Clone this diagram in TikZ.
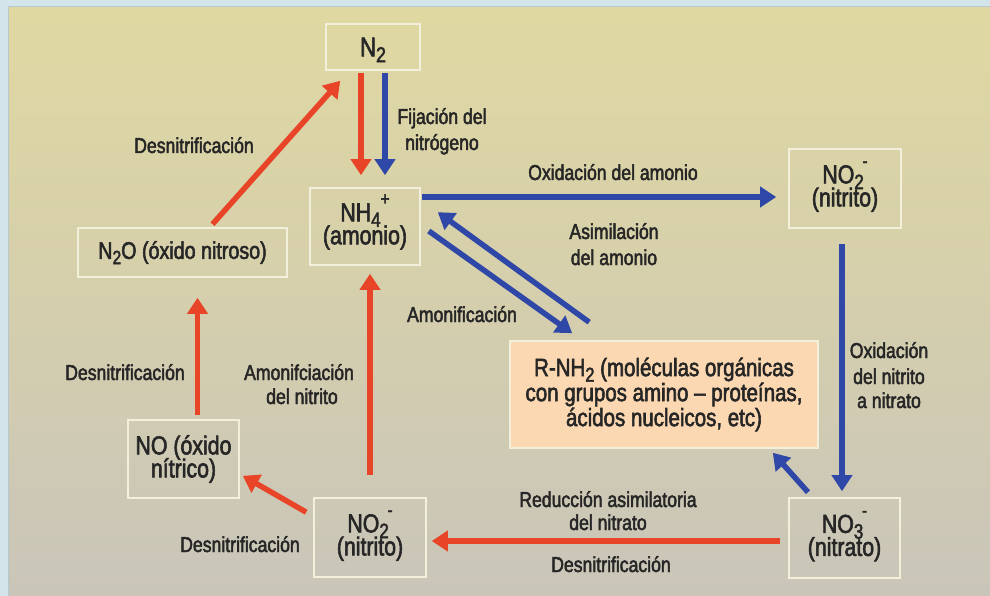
\documentclass[tikz,border=0pt]{standalone}
\usepackage{fontspec}
\setmainfont{Liberation Sans}[FakeStretch=0.82,FakeBold=2.2]
\usepackage{graphicx}
\usetikzlibrary{arrows.meta}
\definecolor{outerc}{HTML}{D3E5EA}
\definecolor{edgec}{HTML}{B6C8CD}
\definecolor{bgtop}{HTML}{E0D8A1}
\definecolor{bgmid}{HTML}{D6D0AE}
\definecolor{bgbot}{HTML}{C9C5B9}
\definecolor{boxline}{HTML}{F2EFDA}
\definecolor{peach}{HTML}{FBD8B1}
\definecolor{redc}{HTML}{E84428}
\definecolor{bluec}{HTML}{2F47A6}
\definecolor{txt}{HTML}{262626}
\newcommand\dn[1]{\smash{\raisebox{-0.22em}{\scalebox{0.8}{#1}}}}
\newcommand\upx[1]{\smash{\raisebox{0.62em}{\scalebox{0.72}{#1}}}}
\newcommand\boxfont{\fontsize{26}{23}\selectfont\lineskiplimit=-40pt}
\newcommand\rfont{\fontsize{25}{25}\selectfont\lineskiplimit=-40pt}
\newcommand\labfont{\fontsize{21.5}{24}\selectfont}
\begin{document}
\begin{tikzpicture}[x=1pt,y=-1pt,
  box/.style={draw=boxline, line width=1.6pt, inner sep=0pt, align=center, font=\boxfont, text=txt},
  lab/.style={font=\labfont, text=txt, inner sep=0pt, anchor=base},
  rarr/.style={draw=redc, line width=5.5pt, -{Triangle[width=20pt,length=16pt]}},
  barr/.style={draw=bluec, line width=5.5pt, -{Triangle[width=20pt,length=16pt]}}]
\useasboundingbox (0,0) rectangle (990,596);
% background
\fill[outerc] (0,0) rectangle (990,596);
\fill[edgec] (8,6) rectangle (990,7.5);
\fill[edgec] (7.5,6) rectangle (9,596);
\shade[top color=bgtop, middle color=bgmid, bottom color=bgbot] (9,7.5) rectangle (990,596);
% boxes
\node[box, minimum width=94pt, minimum height=46pt, font=\fontsize{27}{27}\selectfont] (N2) at (373,47) {N\dn{2}};
\node[box, minimum width=110pt, minimum height=77pt] (NH4) at (365,226.5) {NH\dn{4}\upx{+}\\(amonio)};
\node[box, minimum width=112pt, minimum height=79pt] (NO2t) at (845,188.5) {NO\dn{2}\kern-0.05em\upx{-}\\(nitrito)};
\node[box, minimum width=209pt, minimum height=49pt, font=\fontsize{24}{24}\selectfont] (N2O) at (182.5,252.5) {N\dn{2}O (óxido nitroso)};
\node[box, minimum width=111pt, minimum height=78pt] (NO) at (183.5,459) {NO (óxido\\nítrico)};
\node[box, minimum width=112pt, minimum height=79pt] (NO2b) at (370,537.5) {NO\dn{2}\kern-0.05em\upx{-}\\(nitrito)};
\node[box, fill=peach, minimum width=308pt, minimum height=107pt, font=\rfont] (RNH2) at (664,394.5) {R-NH\dn{2} (moléculas orgánicas\\con grupos amino – proteínas,\\ácidos nucleicos, etc)};
\node[box, minimum width=111pt, minimum height=80pt] (NO3) at (844.5,538) {NO\dn{3}\kern-0.05em\upx{-}\\(nitrato)};
% helper coordinates
\coordinate (p1) at ([xshift=1pt,yshift=29.5pt]NH4.east);
\coordinate (p2) at ([xshift=-3pt,yshift=-15pt]NO2t.south);
\coordinate (p3) at ([xshift=14pt,yshift=4pt]NO.north);
\coordinate (p4) at ([yshift=22pt]NO2b.north);
\coordinate (p5) at ([xshift=-8pt,yshift=-3pt]NO3.west);
% arrows
\draw[rarr, shorten <=2pt, shorten >=12pt] ([xshift=-12pt]N2.south) -- ([xshift=-12pt]N2.south |- NH4.north);
\draw[barr, shorten <=2pt, shorten >=12pt] ([xshift=12pt]N2.south) -- ([xshift=12pt]N2.south |- NH4.north);
\draw[rarr] ([xshift=30pt,yshift=3pt]N2O.north) -- ([xshift=15pt,yshift=-10pt]N2.south west);
\draw[barr, shorten >=12pt] (p1) -- (p1 -| NO2t.west);
\draw[barr, shorten >=6pt] (p2) -- (p2 |- NO3.north);
\draw[barr] ([xshift=-36.5pt,yshift=5pt]NO3.north) -- ([xshift=-46pt,yshift=-4pt]RNH2.south east);
\draw[barr] ([xshift=8pt,yshift=-4.5pt]NH4.east) -- ([xshift=63pt,yshift=7pt]RNH2.north west);
\draw[barr] ([xshift=80pt,yshift=18pt]RNH2.north west) -- ([xshift=17pt,yshift=-25pt]NH4.north east);
\draw[rarr, shorten >=20pt] (p3) -- (p3 |- N2O.south);
\draw[rarr] ([xshift=-7pt,yshift=-15pt]NO2b.north west) -- ([xshift=3pt,yshift=23pt]NO.south east);
\draw[rarr, shorten >=8pt] (p4) -- (p4 |- NH4.south);
\draw[rarr, shorten >=5pt] (p5) -- (p5 -| NO2b.east);
% labels
\node[lab] (l1) at (194,153) {Desnitrificación};
\node[lab] (l2a) at (442,124) {Fijación del};
\node[lab] (l2b) at (442,150) {nitrógeno};
\node[lab] (l3) at (613,180) {Oxidación del amonio};
\node[lab] (l4a) at (614,239) {Asimilación};
\node[lab] (l4b) at (614,265) {del amonio};
\node[lab] (l5) at (462,322) {Amonificación};
\node[lab] (l6) at (125,380) {Desnitrificación};
\node[lab] (l7a) at (299,380) {Amonifciación};
\node[lab] (l7b) at (302,404) {del nitrito};
\node[lab] (l8a) at (889,358) {Oxidación};
\node[lab] (l8b) at (889,384) {del nitrito};
\node[lab] (l8c) at (889,408) {a nitrato};
\node[lab] (l9a) at (608,507) {Reducción asimilatoria};
\node[lab] (l9b) at (608,530) {del nitrato};
\node[lab] (l10) at (611,572) {Desnitrificación};
\node[lab] (l11) at (240,552) {Desnitrificación};
\end{tikzpicture}
\end{document}
